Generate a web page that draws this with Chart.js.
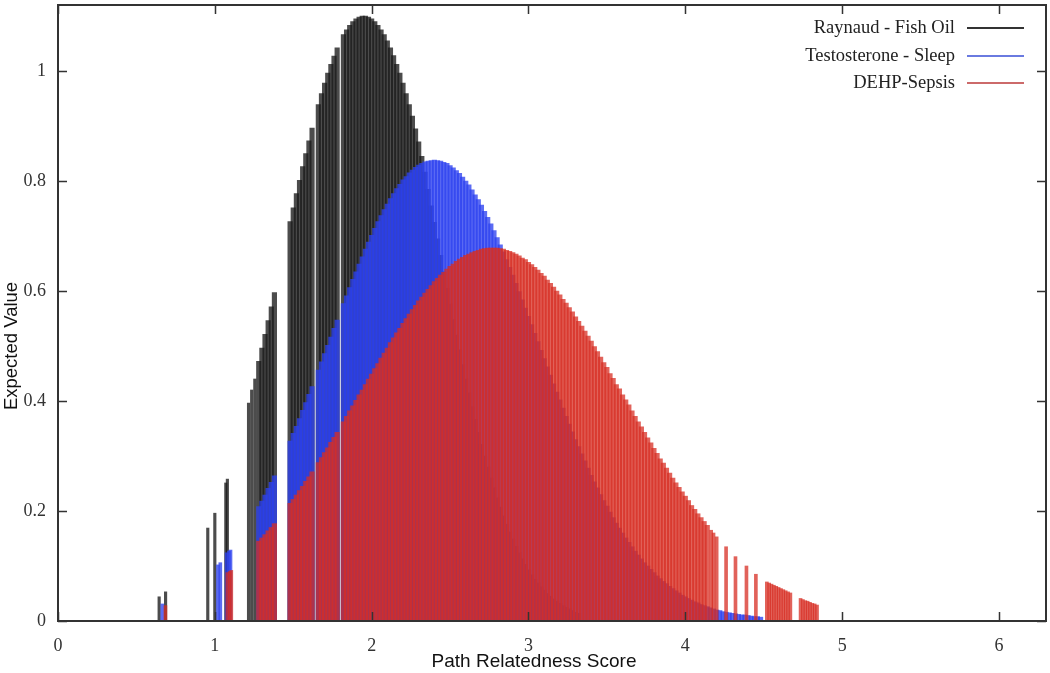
<!DOCTYPE html>
<html>
<head>
<meta charset="utf-8">
<script src="https://cdn.jsdelivr.net/npm/chart.js@4.4.0/dist/chart.umd.min.js"></script>
<style>
  body { margin: 0; background: #fff; }
  #wrap { width: 1050px; height: 673px; }
</style>
</head>
<body>
<div id="wrap"><canvas id="myChart" width="1050" height="673"></canvas></div>
<script>
// scores of the dense impulses (shared by the three series, each series uses a leading part)
var scoreGrid = [
  1.28, 1.30, 1.32, 1.34, 1.36, 1.38,
  1.48, 1.50, 1.52, 1.54, 1.56, 1.58, 1.60, 1.62,
  1.66, 1.68, 1.70, 1.72, 1.74, 1.76, 1.78,
  1.82, 1.84, 1.86, 1.88, 1.90, 1.92, 1.94, 1.96, 1.98, 2.00,
  2.02, 2.04, 2.06, 2.08, 2.10, 2.12, 2.14, 2.16, 2.18, 2.20,
  2.22, 2.24, 2.26, 2.28, 2.30, 2.32, 2.34, 2.36, 2.38, 2.40,
  2.42, 2.44, 2.46, 2.48, 2.50, 2.52, 2.54, 2.56, 2.58, 2.60,
  2.62, 2.64, 2.66, 2.68, 2.70, 2.72, 2.74, 2.76, 2.78, 2.80,
  2.82, 2.84, 2.86, 2.88, 2.90, 2.92, 2.94, 2.96, 2.98, 3.00,
  3.02, 3.04, 3.06, 3.08, 3.10, 3.12, 3.14, 3.16, 3.18, 3.20,
  3.22, 3.24, 3.26, 3.28, 3.30, 3.32, 3.34, 3.36, 3.38, 3.40,
  3.42, 3.44, 3.46, 3.48, 3.50, 3.52, 3.54, 3.56, 3.58, 3.60,
  3.62, 3.64, 3.66, 3.68, 3.70, 3.72, 3.74, 3.76, 3.78, 3.80,
  3.82, 3.84, 3.86, 3.88, 3.90, 3.92, 3.94, 3.96, 3.98, 4.00,
  4.02, 4.04, 4.06, 4.08, 4.10, 4.12, 4.14, 4.16, 4.18, 4.20,
  4.22, 4.24, 4.26, 4.28, 4.30, 4.32, 4.34, 4.36, 4.38, 4.40,
  4.42, 4.44, 4.46, 4.48
];

var raynaudY = [
  0.472, 0.496, 0.521, 0.546, 0.571, 0.597,
  0.726, 0.751, 0.777, 0.801, 0.826, 0.850, 0.873, 0.896,
  0.939, 0.959, 0.978, 0.996, 1.012, 1.027, 1.042,
  1.066, 1.075, 1.083, 1.090, 1.095, 1.098, 1.100, 1.100, 1.098, 1.095,
  1.090, 1.083, 1.075, 1.066, 1.055, 1.042, 1.028, 1.012, 0.996, 0.978,
  0.959, 0.939, 0.918, 0.895, 0.871, 0.845, 0.816, 0.785, 0.755, 0.725,
  0.695, 0.665, 0.635, 0.605, 0.576, 0.548, 0.520, 0.493, 0.466, 0.440,
  0.415, 0.390, 0.366, 0.343, 0.321, 0.300, 0.280, 0.260, 0.242, 0.224,
  0.207, 0.191, 0.176, 0.162, 0.149, 0.136, 0.124, 0.113, 0.103, 0.093,
  0.084, 0.076, 0.069, 0.062, 0.056, 0.050, 0.045, 0.040, 0.036, 0.032,
  0.028, 0.025, 0.022, 0.019, 0.016, 0.014
];

var testosteroneY = [
  0.208, 0.218, 0.229, 0.241, 0.252, 0.264,
  0.327, 0.341, 0.354, 0.368, 0.383, 0.397, 0.412, 0.426,
  0.456, 0.471, 0.486, 0.501, 0.516, 0.532, 0.547,
  0.577, 0.591, 0.606, 0.621, 0.635, 0.649, 0.662, 0.676, 0.689, 0.701,
  0.714, 0.726, 0.737, 0.748, 0.758, 0.768, 0.777, 0.786, 0.794, 0.802,
  0.808, 0.815, 0.820, 0.825, 0.829, 0.832, 0.835, 0.836, 0.837, 0.838,
  0.837, 0.836, 0.834, 0.832, 0.828, 0.824, 0.819, 0.814, 0.807, 0.800,
  0.793, 0.784, 0.775, 0.766, 0.756, 0.745, 0.734, 0.722, 0.710, 0.697,
  0.684, 0.671, 0.657, 0.643, 0.629, 0.614, 0.599, 0.584, 0.569, 0.554,
  0.539, 0.523, 0.508, 0.492, 0.477, 0.462, 0.447, 0.431, 0.416, 0.402,
  0.387, 0.372, 0.358, 0.344, 0.330, 0.317, 0.304, 0.291, 0.278, 0.265,
  0.253, 0.242, 0.230, 0.219, 0.209, 0.198, 0.188, 0.178, 0.169, 0.160,
  0.151, 0.143, 0.135, 0.127, 0.120, 0.113, 0.106, 0.100, 0.094, 0.088,
  0.082, 0.077, 0.072, 0.068, 0.063, 0.059, 0.055, 0.051, 0.047, 0.044,
  0.041, 0.038, 0.035, 0.033, 0.030, 0.028, 0.026, 0.024, 0.022, 0.020,
  0.019, 0.017, 0.016, 0.015, 0.014, 0.013, 0.012, 0.011, 0.011, 0.010,
  0.009, 0.008, 0.008, 0.007
];

var dehpY = [
  0.145, 0.151, 0.157, 0.164, 0.170, 0.177,
  0.214, 0.221, 0.229, 0.237, 0.245, 0.254, 0.262, 0.271,
  0.288, 0.297, 0.306, 0.315, 0.325, 0.334, 0.343,
  0.362, 0.372, 0.382, 0.391, 0.401, 0.411, 0.420, 0.430, 0.440, 0.449,
  0.459, 0.468, 0.478, 0.487, 0.496, 0.506, 0.515, 0.524, 0.532, 0.541,
  0.550, 0.558, 0.566, 0.574, 0.582, 0.589, 0.596, 0.603, 0.610, 0.617,
  0.623, 0.629, 0.634, 0.640, 0.645, 0.649, 0.654, 0.658, 0.661, 0.665,
  0.667, 0.670, 0.672, 0.674, 0.676, 0.677, 0.678, 0.678, 0.678, 0.678,
  0.677, 0.676, 0.674, 0.672, 0.670, 0.667, 0.664, 0.660, 0.657, 0.652,
  0.648, 0.643, 0.638, 0.632, 0.627, 0.620, 0.614, 0.607, 0.600, 0.593,
  0.585, 0.578, 0.570, 0.562, 0.553, 0.545, 0.536, 0.527, 0.518, 0.509,
  0.499, 0.490, 0.480, 0.470, 0.461, 0.450, 0.441, 0.430, 0.422, 0.411,
  0.402, 0.393, 0.382, 0.372, 0.362, 0.353, 0.343, 0.333, 0.324, 0.314,
  0.305, 0.295, 0.287, 0.278, 0.269, 0.260, 0.251, 0.243, 0.235, 0.227,
  0.219, 0.210, 0.203, 0.195, 0.188, 0.181, 0.174
];

// isolated thin impulses
var raynaudThinX = [0.645, 0.686, 0.955, 1.00, 1.07, 1.08, 1.215, 1.235, 1.255];
var raynaudThinY = [0.044, 0.053, 0.169, 0.196, 0.251, 0.258, 0.396, 0.420, 0.440];

var testosteroneThinX = [0.665, 1.02, 1.035, 1.075, 1.09, 1.10];
var testosteroneThinY = [0.031, 0.102, 0.106, 0.124, 0.127, 0.129];

var dehpThinX = [0.685, 1.08, 1.095, 1.105,
  4.165, 4.18, 4.20, 4.26, 4.32, 4.39, 4.45,
  4.52, 4.535, 4.55, 4.565, 4.58, 4.595, 4.61, 4.625, 4.64, 4.655, 4.67,
  4.735, 4.75, 4.765, 4.78, 4.795, 4.81, 4.825, 4.84];
var dehpThinY = [0.028, 0.088, 0.090, 0.092,
  0.165, 0.160, 0.153, 0.135, 0.117, 0.100, 0.085,
  0.071, 0.069, 0.067, 0.065, 0.063, 0.061, 0.059, 0.057, 0.055, 0.053, 0.051,
  0.041, 0.039, 0.037, 0.036, 0.034, 0.032, 0.031, 0.029];

var seriesNames = ["Raynaud - Fish Oil", "Testosterone - Sleep", "DEHP-Sepsis"];
var xTicks = [0, 1, 2, 3, 4, 5, 6];
var yTicks = [0, 0.2, 0.4, 0.6, 0.8, 1];

var barColors = ["rgba(25,25,25,0.78)", "rgba(45,65,240,0.78)", "rgba(215,45,35,0.75)"];
var keyColors = ["#333333", "#6a7ae0", "#cc6a6a"];

function toPoints(xs, ys) {
  var pts = [];
  for (var i = 0; i < ys.length; i++) {
    if (ys[i] !== null) pts.push({ x: xs[i], y: ys[i] });
  }
  return pts;
}

function impulses(label, xs, ys, idx, thick) {
  return {
    label: label,
    data: toPoints(xs, ys),
    backgroundColor: barColors[idx],
    borderWidth: 0,
    barThickness: thick,
    grouped: false,
    order: 3 - idx   // red on top, black at the bottom
  };
}

// frame, inward ticks, key and axis titles, gnuplot style
var gnuplotFrame = {
  id: "gnuplotFrame",
  afterDraw: function(chart) {
    var ctx = chart.ctx, a = chart.chartArea;
    var sx = chart.scales.x, sy = chart.scales.y;
    ctx.save();
    ctx.strokeStyle = "#333";
    ctx.lineWidth = 1.5;
    ctx.beginPath();
    xTicks.forEach(function(v) {
      var p = Math.round(sx.getPixelForValue(v)) + 0.5;
      ctx.moveTo(p, a.bottom); ctx.lineTo(p, a.bottom - 9);
      ctx.moveTo(p, a.top); ctx.lineTo(p, a.top + 9);
    });
    yTicks.forEach(function(v) {
      var p = Math.round(sy.getPixelForValue(v)) + 0.5;
      ctx.moveTo(a.left, p); ctx.lineTo(a.left + 9, p);
      ctx.moveTo(a.right, p); ctx.lineTo(a.right - 9, p);
    });
    ctx.stroke();
    ctx.lineWidth = 2;
    ctx.strokeRect(a.left, a.top, a.right - a.left, a.bottom - a.top);

    // key
    ctx.font = '18.5px "Liberation Serif", "Times New Roman", serif';
    ctx.textAlign = "right";
    ctx.textBaseline = "middle";
    var rows = [28, 56, 83];
    for (var i = 0; i < seriesNames.length; i++) {
      ctx.fillStyle = "#222";
      ctx.fillText(seriesNames[i], 955, rows[i]);
      ctx.strokeStyle = keyColors[i];
      ctx.lineWidth = 2;
      ctx.beginPath();
      ctx.moveTo(967, rows[i]); ctx.lineTo(1024, rows[i]);
      ctx.stroke();
    }

    // axis titles
    ctx.fillStyle = "#111";
    ctx.textAlign = "center";
    ctx.font = '19px "Liberation Sans", Arial, sans-serif';
    ctx.fillText("Path Relatedness Score", 534, 662);
    ctx.font = '18.5px "Liberation Sans", Arial, sans-serif';
    ctx.translate(12, 346);
    ctx.rotate(-Math.PI / 2);
    ctx.fillText("Expected Value", 0, 0);
    ctx.restore();
  }
};

var tickFont = { family: '"Liberation Serif", "Times New Roman", serif', size: 18 };

var ctx = document.getElementById("myChart").getContext("2d");
var myChart = new Chart(ctx, {
  type: "bar",
  data: {
    datasets: [
      impulses(seriesNames[0], scoreGrid, raynaudY, 0, 4.5),
      impulses(seriesNames[0], raynaudThinX, raynaudThinY, 0, 2.5),
      impulses(seriesNames[1], scoreGrid, testosteroneY, 1, 4.5),
      impulses(seriesNames[1], testosteroneThinX, testosteroneThinY, 1, 3),
      impulses(seriesNames[2], scoreGrid, dehpY, 2, 4.5),
      impulses(seriesNames[2], dehpThinX, dehpThinY, 2, 3)
    ]
  },
  options: {
    responsive: false,
    animation: false,
    devicePixelRatio: 1,
    layout: { padding: { top: 5, right: 4, left: 0, bottom: 0 } },
    plugins: { legend: { display: false }, tooltip: { enabled: false } },
    scales: {
      x: {
        type: "linear",
        min: 0, max: 6.3,
        offset: false,
        grid: { display: false, drawTicks: false },
        border: { display: false },
        afterBuildTicks: function(s) { s.ticks = xTicks.map(function(v) { return { value: v }; }); },
        afterFit: function(s) { s.height = 52; s.paddingLeft = 0; s.paddingRight = 0; },
        ticks: { font: tickFont, color: "#333", padding: 14, maxRotation: 0,
                 callback: function(v) { return String(v); } }
      },
      y: {
        min: 0, max: 1.12,
        grid: { display: false, drawTicks: false },
        border: { display: false },
        afterBuildTicks: function(s) { s.ticks = yTicks.map(function(v) { return { value: v }; }); },
        afterFit: function(s) { s.width = 58; s.paddingTop = 0; s.paddingBottom = 0; },
        ticks: { font: tickFont, color: "#333", padding: 12,
                 callback: function(v) { return String(v); } }
      }
    }
  },
  plugins: [gnuplotFrame]
});
</script>
</body>
</html>
